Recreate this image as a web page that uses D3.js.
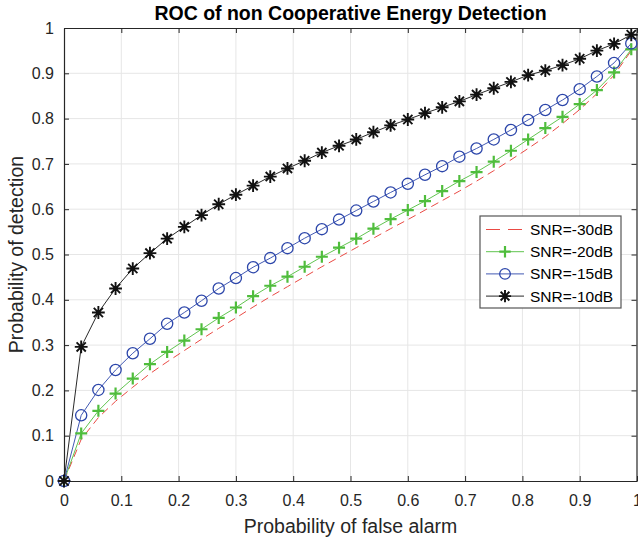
<!DOCTYPE html>
<html>
<head>
<meta charset="utf-8">
<script src="https://cdn.jsdelivr.net/npm/d3@7"></script>
<style>
  body { margin: 0; background: #fff; }
  svg { display: block; font-family: "Liberation Sans", Arial, sans-serif; }
</style>
</head>
<body>
<div id="chart"></div>
<script>
// probability of false alarm (x)
const pf = [0, 0.03, 0.06, 0.09, 0.12, 0.15, 0.18, 0.21, 0.24, 0.27, 0.30, 0.33,
  0.36, 0.39, 0.42, 0.45, 0.48, 0.51, 0.54, 0.57, 0.60, 0.63, 0.66, 0.69, 0.72,
  0.75, 0.78, 0.81, 0.84, 0.87, 0.90, 0.93, 0.96, 0.99];

// probability of detection for each SNR
const pd30 = [0, 0.092, 0.140, 0.176, 0.207, 0.237, 0.263, 0.288, 0.313, 0.337, 0.360, 0.384,
  0.407, 0.429, 0.451, 0.473, 0.494, 0.515, 0.536, 0.557, 0.577, 0.598, 0.619, 0.640, 0.662,
  0.685, 0.709, 0.734, 0.760, 0.789, 0.820, 0.855, 0.896, 0.950];
const pd20 = [0, 0.105, 0.155, 0.193, 0.226, 0.258, 0.285, 0.310, 0.335, 0.360, 0.383, 0.408,
  0.431, 0.451, 0.473, 0.495, 0.515, 0.535, 0.557, 0.578, 0.598, 0.618, 0.640, 0.662, 0.682,
  0.705, 0.729, 0.754, 0.779, 0.804, 0.832, 0.863, 0.902, 0.953];
const pd15 = [0, 0.145, 0.201, 0.245, 0.282, 0.314, 0.347, 0.372, 0.398, 0.425, 0.448, 0.472,
  0.492, 0.514, 0.536, 0.556, 0.577, 0.597, 0.617, 0.637, 0.656, 0.676, 0.695, 0.716, 0.734,
  0.754, 0.775, 0.797, 0.819, 0.841, 0.865, 0.893, 0.923, 0.966];
const pd10 = [0, 0.296, 0.372, 0.425, 0.469, 0.503, 0.535, 0.561, 0.587, 0.611, 0.632, 0.652,
  0.672, 0.690, 0.707, 0.725, 0.740, 0.754, 0.770, 0.785, 0.798, 0.812, 0.825, 0.838, 0.853,
  0.867, 0.881, 0.896, 0.906, 0.918, 0.932, 0.950, 0.965, 0.985];

const seriesNames = ["SNR=-30dB", "SNR=-20dB", "SNR=-15dB", "SNR=-10dB"];
const xTicks = [0, 0.1, 0.2, 0.3, 0.4, 0.5, 0.6, 0.7, 0.8, 0.9, 1];
const yTicks = [0, 0.1, 0.2, 0.3, 0.4, 0.5, 0.6, 0.7, 0.8, 0.9, 1];

const width = 638, height = 541;
const margin = { top: 28, right: 1, bottom: 60, left: 64 };
const axisColor = "#262626";

const series = [
  { name: seriesNames[0], values: pd30, color: "#ea4a44", dash: "8,5", marker: "none", lw: 1 },
  { name: seriesNames[1], values: pd20, color: "#4fbd3c", dash: null, marker: "plus", lw: 0.9 },
  { name: seriesNames[2], values: pd15, color: "#2c46aa", dash: null, marker: "circle", lw: 0.9 },
  { name: seriesNames[3], values: pd10, color: "#111111", dash: null, marker: "star", lw: 0.9 }
];

const svg = d3.select("#chart").append("svg")
  .attr("width", width)
  .attr("height", height);

const x = d3.scaleLinear().domain([0, 1]).range([margin.left, width - margin.right]);
const y = d3.scaleLinear().domain([0, 1]).range([height - margin.bottom, margin.top]);

// grid
svg.append("g")
  .selectAll("line")
  .data(xTicks.slice(1, -1))
  .join("line")
  .attr("x1", d => x(d)).attr("x2", d => x(d))
  .attr("y1", y(0)).attr("y2", y(1))
  .attr("stroke", "#e6e6e6");
svg.append("g")
  .selectAll("line")
  .data(yTicks.slice(1, -1))
  .join("line")
  .attr("x1", x(0)).attr("x2", x(1))
  .attr("y1", d => y(d)).attr("y2", d => y(d))
  .attr("stroke", "#e6e6e6");

// axes (ticks pointing inward, box on)
const tickLen = 5;
const xAxis = svg.append("g")
  .attr("transform", `translate(0,${y(0)})`)
  .call(d3.axisBottom(x).tickValues(xTicks).tickFormat(d3.format("")).tickSizeInner(-tickLen).tickSizeOuter(0).tickPadding(14));
const xAxisTop = svg.append("g")
  .attr("transform", `translate(0,${y(1)})`)
  .call(d3.axisTop(x).tickValues(xTicks).tickFormat("").tickSizeInner(-tickLen).tickSizeOuter(0));
const yAxis = svg.append("g")
  .attr("transform", `translate(${x(0)},0)`)
  .call(d3.axisLeft(y).tickValues(yTicks).tickFormat(d3.format("")).tickSizeInner(-tickLen).tickSizeOuter(0).tickPadding(10));
const yAxisRight = svg.append("g")
  .attr("transform", `translate(${x(1) - 0.5},0)`)
  .call(d3.axisRight(y).tickValues(yTicks).tickFormat("").tickSizeInner(-tickLen).tickSizeOuter(0));

[xAxis, xAxisTop, yAxis, yAxisRight].forEach(g => {
  g.select(".domain").attr("stroke", axisColor).attr("stroke-width", 1.2);
  g.selectAll(".tick line").attr("stroke", axisColor);
  g.selectAll("text")
    .attr("font-family", "Liberation Sans, Arial, sans-serif")
    .attr("font-size", 16)
    .attr("fill", axisColor);
});

// lines
const line = d3.line()
  .x((d, i) => x(pf[i]))
  .y(d => y(d));

series.forEach(s => {
  svg.append("path")
    .datum(s.values)
    .attr("fill", "none")
    .attr("stroke", s.color)
    .attr("stroke-width", s.lw)
    .attr("stroke-dasharray", s.dash)
    .attr("d", line);
});

// markers
function markerPath(type, r) {
  const p = d3.path();
  if (type === "plus") {
    p.moveTo(-r, 0); p.lineTo(r, 0);
    p.moveTo(0, -r); p.lineTo(0, r);
  } else if (type === "star") {
    const k = r * 0.72;
    p.moveTo(-r, 0); p.lineTo(r, 0);
    p.moveTo(0, -r); p.lineTo(0, r);
    p.moveTo(-k, -k); p.lineTo(k, k);
    p.moveTo(-k, k); p.lineTo(k, -k);
  } else if (type === "circle") {
    p.arc(0, 0, r, 0, 2 * Math.PI);
  }
  return p.toString();
}

function drawMarker(g, s, cx, cy, scale = 1) {
  if (s.marker === "plus") {
    g.append("path").attr("d", markerPath("plus", 6 * scale))
      .attr("transform", `translate(${cx},${cy})`)
      .attr("fill", "none").attr("stroke", s.color).attr("stroke-width", 2.2);
  } else if (s.marker === "circle") {
    g.append("path").attr("d", markerPath("circle", 5.6 * scale))
      .attr("transform", `translate(${cx},${cy})`)
      .attr("fill", "none").attr("stroke", s.color).attr("stroke-width", 1.3);
  } else if (s.marker === "star") {
    g.append("path").attr("d", markerPath("star", 6.4 * scale))
      .attr("transform", `translate(${cx},${cy})`)
      .attr("fill", "none").attr("stroke", s.color).attr("stroke-width", 1.9);
  }
}

series.filter(s => s.marker !== "none").forEach(s => {
  const g = svg.append("g");
  s.values.forEach((v, i) => drawMarker(g, s, x(pf[i]), y(v)));
});

// title and axis labels
svg.append("text")
  .attr("x", (x(0) + x(1)) / 2)
  .attr("y", 20)
  .attr("text-anchor", "middle")
  .attr("font-size", 19.5)
  .attr("font-weight", "bold")
  .attr("fill", "#000")
  .text("ROC of non Cooperative Energy Detection");

svg.append("text")
  .attr("x", (x(0) + x(1)) / 2)
  .attr("y", 533)
  .attr("text-anchor", "middle")
  .attr("font-size", 19.5)
  .attr("fill", axisColor)
  .text("Probability of false alarm");

svg.append("text")
  .attr("transform", `translate(23,${(y(0) + y(1)) / 2}) rotate(-90)`)
  .attr("text-anchor", "middle")
  .attr("font-size", 19.5)
  .attr("fill", axisColor)
  .text("Probability of detection");

// legend
const legend = svg.append("g").attr("transform", "translate(480,216)");
legend.append("rect")
  .attr("width", 141).attr("height", 92)
  .attr("fill", "#fff")
  .attr("stroke", "#555").attr("stroke-width", 1.2);

series.forEach((s, i) => {
  const ly = 13.5 + i * 22.2;
  legend.append("line")
    .attr("x1", 6).attr("x2", 44)
    .attr("y1", ly).attr("y2", ly)
    .attr("stroke", s.color)
    .attr("stroke-width", s.lw)
    .attr("stroke-dasharray", s.dash ? "14,8" : null);
  drawMarker(legend, s, 25, ly, 0.95);
  legend.append("text")
    .attr("x", 50).attr("y", ly)
    .attr("dy", "0.35em")
    .attr("font-size", 15.5)
    .attr("fill", "#000")
    .text(s.name);
});
</script>
</body>
</html>
